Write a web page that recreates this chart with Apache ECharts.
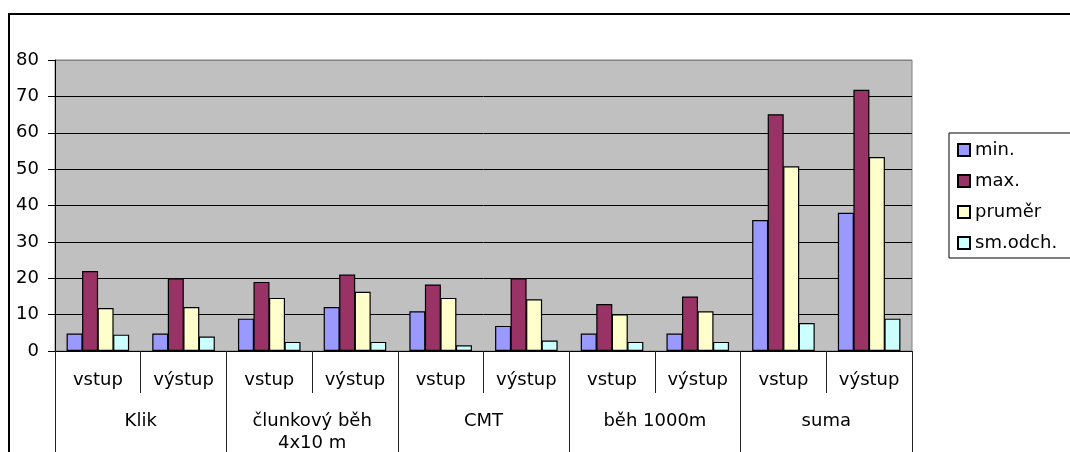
<!DOCTYPE html>
<html>
<head>
<meta charset="utf-8">
<script src="https://cdn.jsdelivr.net/npm/echarts@6/dist/echarts.min.js"></script>
<style>
html,body{margin:0;padding:0;background:#fff;}
#c{width:1070px;height:452px;}
</style>
</head>
<body>
<div id="c"></div>
<script>
var subCategories = ['vstup','výstup','vstup','výstup','vstup','výstup','vstup','výstup','vstup','výstup'];
var groups = ['Klik','člunkový běh\n4x10 m','CMT','běh 1000m','suma'];
var yTicks = [0,10,20,30,40,50,60,70,80];
var minVals = [4.8,4.8,8.9,12.1,10.9,6.9,4.8,4.8,36,38];
var maxVals = [22,20,19,21,18.3,20,12.9,15,65.1,71.8];
var prumerVals = [11.8,12.1,14.6,16.3,14.6,14.2,10.1,10.9,50.8,53.3];
var sdVals = [4.5,4.0,2.5,2.5,1.6,2.9,2.5,2.5,7.7,8.9];
var seriesNames = ['min.','max.','pruměr','sm.odch.'];
var seriesColors = ['#9999FF','#993366','#FFFFCC','#CCFFFF'];

var FONT = 'DejaVu Sans';
var chart = echarts.init(document.getElementById('c'), null, {renderer:'canvas'});
var allVals = [minVals,maxVals,prumerVals,sdVals];
var series = allVals.map(function(v,i){
  return {
    name: seriesNames[i], type:'bar', xAxisIndex:0, yAxisIndex:0,
    data: v, barGap:'-3%', barWidth:16,
    itemStyle:{color:seriesColors[i], borderColor:'#000', borderWidth:1.2},
    emphasis:{disabled:true}
  };
});
chart.setOption({
  animation:false,
  textStyle:{fontFamily:FONT},
  graphic:[{type:'rect', shape:{x:9,y:14,width:1100,height:480}, style:{fill:null, stroke:'#000', lineWidth:2}, z:-10}],
  grid:{left:55, top:60, width:857, height:291, show:true, backgroundColor:'#C0C0C0', borderColor:'#808080', borderWidth:1,
        containLabel:false, outerBoundsMode:'none'},
  legend:{
    orient:'vertical', left:949, top:133,
    padding:[8,40,6,8], itemWidth:12, itemHeight:12, itemGap:13,
    borderColor:'#000', borderWidth:1, backgroundColor:'#fff',
    textStyle:{fontFamily:FONT, fontSize:18, color:'#000', lineHeight:18},
    data: seriesNames.map(function(n){return {name:n, icon:'rect'};}),
    selectedMode:false
  },
  xAxis:[
    {type:'category', data:subCategories, position:'bottom', boundaryGap:true,
     axisLine:{show:true, lineStyle:{color:'#000', width:1}},
     axisTick:{show:true, interval:0, length:42, lineStyle:{color:'#222'}},
     axisLabel:{interval:0, margin:20, color:'#000', fontSize:18, fontFamily:FONT},
     splitLine:{show:false}},
    {type:'category', data:groups, position:'bottom', boundaryGap:true, gridIndex:0,
     axisLine:{show:false},
     axisTick:{show:true, interval:0, length:115, lineStyle:{color:'#222'}},
     axisLabel:{interval:0, margin:59, color:'#000', fontSize:18, fontFamily:FONT, lineHeight:22},
     splitLine:{show:false}}
  ],
  yAxis:{type:'value', min:0, max:80, interval:10,
    axisLine:{show:true, lineStyle:{color:'#000', width:1}},
    axisTick:{show:true, length:7, lineStyle:{color:'#000'}},
    axisLabel:{margin:16, color:'#000', fontSize:18, fontFamily:FONT},
    splitLine:{show:true, lineStyle:{color:['#000','#000','#000','#000','#000','#000','#000','#000','#808080'], width:1}}
  },
  series: series
});
</script>
</body>
</html>
